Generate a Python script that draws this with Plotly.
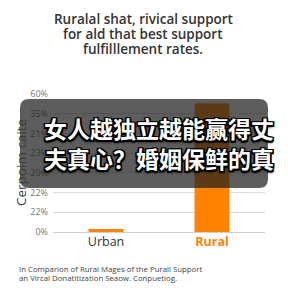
import plotly.graph_objects as go
import numpy as np

# ---- data ----
categories = ["Urban", "Rural"]
values = [1.3, 56.0]
y_tick_labels = ["0%", "22%", "22%", "-20%", "23%", "21%", "35%", "60%"]
title_lines = ["Ruralal shat, rivical support",
               "for ald that best support",
               "fulfilllement rates."]
y_title = "Cerpoim caite"
overlay_lines = ["女人越独立越能赢得丈", "夫真心？婚姻保鲜的真"]
foot_lines = ["In Comparion of Rural Mages of the Purall Support",
              "an Vircal Donatitization Seaow. Conpuetiog."]

W, H = 288, 288
L, R, T, B = 53, 23, 94, 56
PW, PH = W - L - R, H - T - B


def px(x):
    return (x - L) / PW


def py(y):
    return (H - B - y) / PH


ORANGE = "#FF8200"

fig = go.Figure()
fig.add_trace(go.Bar(x=categories, y=values, marker_color=ORANGE,
                     marker_line_width=0, width=0.33))

tickvals = np.linspace(0, 60, len(y_tick_labels))
ticktext_x = ["<span style='color:#333'>Urban</span>",
              "<b><span style='color:%s'>Rural</span></b>" % ORANGE]

fig.update_layout(
    width=W, height=H,
    margin=dict(l=L, r=R, t=T, b=B),
    paper_bgcolor="white", plot_bgcolor="white",
    showlegend=False,
    font=dict(family="Open Sans, Noto Sans, sans-serif"),
    xaxis=dict(tickvals=categories, ticktext=ticktext_x,
               tickfont=dict(size=12.5, color="#333"),
               showgrid=False, showline=False, ticks="", ticklen=0,
               range=[-0.5, 1.5]),
    yaxis=dict(range=[0, 60], tickvals=tickvals, ticktext=y_tick_labels,
               tickfont=dict(size=9, color="#777"),
               showgrid=True, gridcolor="#dcdcdc", gridwidth=1,
               zeroline=True, zerolinecolor="#cfcfcf", zerolinewidth=1,
               showline=False, ticks="", ticklabelstandoff=4),
)

anns = []
# title
for i, (line, yy) in enumerate(zip(title_lines, [19, 34, 49])):
    anns.append(dict(x=px(143), y=py(yy), xref="paper", yref="paper",
                     text=line, showarrow=False, xanchor="center", yanchor="middle",
                     font=dict(size=13.5, color="#333", family="Open Sans", weight=600)))
# y title
anns.append(dict(x=px(21), y=py(163), xref="paper", yref="paper", text=y_title,
                 showarrow=False, textangle=-90, xanchor="center", yanchor="middle",
                 font=dict(size=13.5, color="#3a3a3a", family="Open Sans")))
# footnote
for line, yy in zip(foot_lines, [269, 278]):
    anns.append(dict(x=px(17), y=py(yy), xref="paper", yref="paper", text=line,
                     showarrow=False, xanchor="left", yanchor="middle",
                     font=dict(size=7.8, color="#444", family="Open Sans")))
# overlay text
outline = ("1.5px 1.5px 0 #000, -1.5px -1.5px 0 #000, 1.5px -1.5px 0 #000, -1.5px 1.5px 0 #000, "
           "0 1.5px 0 #000, 0 -1.5px 0 #000, 1.5px 0 0 #000, -1.5px 0 0 #000, 0 2px 3px #000")
for line, yy in zip(overlay_lines, [128, 158]):
    anns.append(dict(x=px(42), y=py(yy), xref="paper", yref="paper", text="<b>" + line + "</b>",
                     showarrow=False, xanchor="left", yanchor="middle",
                     font=dict(size=23, color="white", family="Noto Sans CJK SC",
                               shadow=outline)))
fig.update_layout(annotations=anns)

# rounded overlay box
x0, x1, y0, y1, r = 20, 268, 99, 188, 9
X0, X1, Y0, Y1 = px(x0), px(x1), py(y0), py(y1)
rx, ry = r / PW, r / PH
path = (f"M {X0+rx},{Y0} L {X1-rx},{Y0} Q {X1},{Y0} {X1},{Y0-ry} "
        f"L {X1},{Y1+ry} Q {X1},{Y1} {X1-rx},{Y1} "
        f"L {X0+rx},{Y1} Q {X0},{Y1} {X0},{Y1+ry} "
        f"L {X0},{Y0-ry} Q {X0},{Y0} {X0+rx},{Y0} Z")
fig.add_shape(type="path", path=path, xref="paper", yref="paper",
              fillcolor="rgba(30,30,30,0.72)", line_width=0, layer="above")

fig.write_html("out.html")
